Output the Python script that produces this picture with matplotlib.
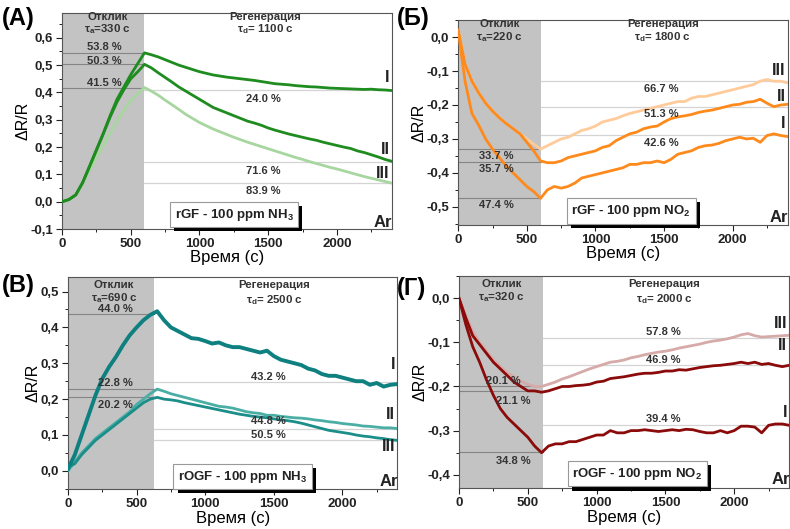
import matplotlib
matplotlib.use('Agg')
import matplotlib.pyplot as plt
import matplotlib.patheffects as pe
from matplotlib.ticker import MultipleLocator, FuncFormatter

plt.rcParams['font.family'] = ['Liberation Sans', 'DejaVu Sans']
plt.rcParams['font.weight'] = 'bold'
plt.rcParams['axes.unicode_minus'] = False
plt.rcParams['mathtext.default'] = 'regular'

# время, с
t = list(range(0, 2401, 50))

# (А) rGF - NH3
a_I = [0.0, 0.008, 0.025, 0.07, 0.13, 0.19, 0.25, 0.315, 0.375, 0.42, 0.465, 0.505, 0.545,
       0.538, 0.53, 0.52, 0.51, 0.5, 0.492, 0.484, 0.476, 0.47, 0.464, 0.46, 0.456, 0.453,
       0.45, 0.447, 0.444, 0.44, 0.436, 0.432, 0.43, 0.428, 0.425, 0.423, 0.421, 0.42,
       0.418, 0.416, 0.415, 0.414, 0.413, 0.412, 0.411, 0.412, 0.41, 0.409, 0.407]
a_II = [0.0, 0.008, 0.025, 0.07, 0.128, 0.188, 0.248, 0.31, 0.365, 0.41, 0.45, 0.475, 0.503,
        0.49, 0.472, 0.455, 0.438, 0.42, 0.405, 0.39, 0.375, 0.36, 0.345, 0.335, 0.325, 0.315,
        0.305, 0.295, 0.288, 0.28, 0.27, 0.262, 0.255, 0.248, 0.242, 0.236, 0.23, 0.225,
        0.218, 0.212, 0.206, 0.2, 0.195, 0.186, 0.18, 0.172, 0.164, 0.155, 0.148]
a_III = [0.0, 0.008, 0.025, 0.065, 0.115, 0.16, 0.205, 0.25, 0.295, 0.335, 0.37, 0.395, 0.418,
         0.405, 0.39, 0.372, 0.355, 0.338, 0.32, 0.305, 0.29, 0.278, 0.266, 0.256, 0.246, 0.236,
         0.227, 0.218, 0.21, 0.202, 0.194, 0.186, 0.178, 0.17, 0.162, 0.155, 0.147, 0.14,
         0.133, 0.126, 0.12, 0.113, 0.106, 0.099, 0.092, 0.086, 0.08, 0.074, 0.068]

# (Б) rGF - NO2
b_I = [0.02, -0.13, -0.225, -0.26, -0.3, -0.33, -0.355, -0.38, -0.4, -0.42, -0.44, -0.455, -0.475,
       -0.45, -0.44, -0.445, -0.44, -0.43, -0.415, -0.41, -0.405, -0.4, -0.395, -0.39, -0.385,
       -0.375, -0.375, -0.37, -0.37, -0.365, -0.37, -0.36, -0.345, -0.34, -0.335, -0.325, -0.32,
       -0.318, -0.313, -0.305, -0.3, -0.295, -0.3, -0.298, -0.31, -0.29, -0.285, -0.29, -0.293]
b_II = [0.02, -0.08, -0.13, -0.165, -0.195, -0.218, -0.238, -0.255, -0.27, -0.285, -0.31, -0.335, -0.365,
        -0.37, -0.37, -0.365, -0.355, -0.35, -0.345, -0.34, -0.335, -0.325, -0.32, -0.305, -0.295,
        -0.285, -0.28, -0.27, -0.265, -0.262, -0.25, -0.24, -0.235, -0.232, -0.228, -0.222, -0.218,
        -0.215, -0.21, -0.205, -0.2, -0.198, -0.192, -0.19, -0.183, -0.195, -0.205, -0.2, -0.198]
b_III = [0.02, -0.08, -0.13, -0.165, -0.195, -0.218, -0.238, -0.255, -0.27, -0.285, -0.3, -0.315, -0.33,
         -0.32, -0.31, -0.3, -0.295, -0.285, -0.275, -0.27, -0.262, -0.25, -0.245, -0.24, -0.232,
         -0.225, -0.22, -0.215, -0.21, -0.205, -0.2, -0.195, -0.19, -0.19, -0.18, -0.175, -0.175,
         -0.17, -0.165, -0.16, -0.155, -0.15, -0.145, -0.14, -0.13, -0.125, -0.13, -0.13, -0.135]

# (В) rOGF - NH3
c_I = [0.005, 0.045, 0.1, 0.155, 0.21, 0.257, 0.29, 0.318, 0.35, 0.378, 0.4, 0.42, 0.435,
       0.445, 0.42, 0.4, 0.39, 0.38, 0.37, 0.368, 0.362, 0.355, 0.358, 0.35, 0.345, 0.345,
       0.34, 0.335, 0.33, 0.335, 0.32, 0.31, 0.305, 0.3, 0.295, 0.285, 0.28, 0.27, 0.265,
       0.265, 0.26, 0.255, 0.25, 0.25, 0.24, 0.245, 0.235, 0.24, 0.242]
c_II = [0.0, 0.025, 0.05, 0.07, 0.09, 0.105, 0.12, 0.135, 0.15, 0.165, 0.185, 0.2, 0.215,
        0.228, 0.222, 0.215, 0.21, 0.205, 0.2, 0.195, 0.19, 0.185, 0.18, 0.178, 0.175, 0.17,
        0.165, 0.162, 0.16, 0.155, 0.155, 0.152, 0.15, 0.148, 0.147, 0.145, 0.142, 0.14,
        0.137, 0.135, 0.132, 0.13, 0.128, 0.125, 0.124, 0.122, 0.12, 0.12, 0.118]
c_III = [0.01, 0.02, 0.045, 0.065, 0.085, 0.1, 0.115, 0.13, 0.145, 0.16, 0.175, 0.19, 0.2,
         0.205, 0.2, 0.198, 0.195, 0.19, 0.186, 0.182, 0.178, 0.174, 0.17, 0.166, 0.162, 0.158,
         0.155, 0.152, 0.15, 0.148, 0.145, 0.142, 0.14, 0.137, 0.133, 0.128, 0.123, 0.118,
         0.113, 0.11, 0.107, 0.104, 0.1, 0.097, 0.095, 0.092, 0.09, 0.087, 0.085]

# (Г) rOGF - NO2
d_I = [0.0, -0.06, -0.11, -0.145, -0.185, -0.22, -0.25, -0.27, -0.285, -0.3, -0.315, -0.335, -0.35,
       -0.335, -0.33, -0.33, -0.325, -0.325, -0.32, -0.315, -0.31, -0.31, -0.3, -0.305, -0.305,
       -0.3, -0.3, -0.298, -0.3, -0.302, -0.3, -0.298, -0.3, -0.297, -0.298, -0.302, -0.305,
       -0.305, -0.3, -0.305, -0.3, -0.29, -0.29, -0.292, -0.305, -0.288, -0.285, -0.285, -0.288]
d_II = [0.0, -0.045, -0.085, -0.105, -0.125, -0.145, -0.16, -0.175, -0.19, -0.2, -0.21, -0.21, -0.213,
        -0.21, -0.205, -0.2, -0.2, -0.198, -0.197, -0.195, -0.19, -0.188, -0.182, -0.18, -0.178,
        -0.175, -0.172, -0.17, -0.17, -0.168, -0.165, -0.165, -0.162, -0.163, -0.16, -0.157, -0.155,
        -0.153, -0.152, -0.15, -0.148, -0.145, -0.148, -0.145, -0.15, -0.148, -0.152, -0.155, -0.152]
d_III = [0.0, -0.04, -0.075, -0.1, -0.12, -0.14, -0.155, -0.168, -0.178, -0.188, -0.195, -0.2, -0.2,
         -0.195, -0.19, -0.183, -0.178, -0.172, -0.166, -0.16, -0.155, -0.15, -0.145, -0.143, -0.14,
         -0.135, -0.132, -0.128, -0.125, -0.122, -0.12, -0.117, -0.113, -0.11, -0.107, -0.104, -0.1,
         -0.097, -0.095, -0.092, -0.088, -0.083, -0.08, -0.085, -0.088, -0.087, -0.086, -0.085, -0.084]

# уровни (пик / конец) и подписи процентов
a_peak = [0.545, 0.503, 0.415]
a_peak_txt = ['53.8 %', '50.3 %', '41.5 %']
a_end = [0.41, 0.145, 0.07]
a_end_txt = ['24.0 %', '71.6 %', '83.9 %']

b_peak = [-0.33, -0.367, -0.473]
b_peak_txt = ['33.7 %', '35.7 %', '47.4 %']
b_end = [-0.128, -0.205, -0.287]
b_end_txt = ['66.7 %', '51.3 %', '42.6 %']

c_peak = [0.438, 0.228, 0.206]
c_peak_txt = ['44.0 %', '22.8 %', '20.2 %']
c_end = [0.248, 0.118, 0.087]
c_end_txt = ['43.2 %', '44.8 %', '50.5 %']

d_peak = [-0.198, -0.21, -0.348]
d_peak_txt = ['20.1 %', '21.1 %', '34.8 %']
d_end = [-0.09, -0.152, -0.287]
d_end_txt = ['57.8 %', '46.9 %', '39.4 %']

LW = 2.0


def comma(v, pos):
    return f'{v:.1f}'.replace('.', ',')


def setup_axes(ax, ylim, ystep, gray_end, xpad):
    ax.set_xlim(0, 2400)
    ax.set_ylim(*ylim)
    ax.axvspan(0, gray_end, color='#c3c3c3', lw=0, zorder=0)
    ax.xaxis.set_major_locator(MultipleLocator(500))
    ax.xaxis.set_minor_locator(MultipleLocator(250))
    ax.yaxis.set_major_locator(MultipleLocator(ystep))
    ax.yaxis.set_minor_locator(MultipleLocator(ystep / 2))
    ax.yaxis.set_major_formatter(FuncFormatter(comma))
    ax.tick_params(which='major', length=4, width=0.8, pad=2.5, labelsize=9.5, colors='#222')
    ax.tick_params(which='minor', length=2, width=0.6)
    for s in ax.spines.values():
        s.set_color('#555')
        s.set_linewidth(0.8)
    ax.set_xlabel('Время (с)', fontsize=12, labelpad=xpad)
    ax.set_ylabel('ΔR/R', fontsize=11.5, labelpad=0)


def levels(ax, gray_end, peak, peak_txt, peak_pos, end, end_txt, end_pos):
    for y in peak:
        ax.plot([0, gray_end], [y, y], color='#858585', lw=0.8, zorder=1)
    for y in end:
        ax.plot([gray_end, 2400], [y, y], color='#d4d4d4', lw=0.9, zorder=1)
    for s, (x, y) in zip(peak_txt, peak_pos):
        ax.text(x, y, s, ha='center', va='center', fontsize=8, color='#333', zorder=5)
    for s, (x, y) in zip(end_txt, end_pos):
        ax.text(x, y, s, ha='center', va='center', fontsize=8, color='#333', zorder=5)


def headers(ax, xa, xb, ya, yb, yd, tau_a, tau_d):
    kw = dict(ha='center', va='baseline', fontsize=8.2, color='#333')
    ax.text(xa, ya, 'Отклик', **kw)
    ax.text(xa, yb, 'τ$_\\mathregular{a}$=' + tau_a, **kw)
    ax.text(xb, ya, 'Регенерация', **kw)
    ax.text(xb, yd, 'τ$_\\mathregular{d}$= ' + tau_d, **kw)


def box(ax, x, y, s):
    txt = ax.text(x, y, s, ha='center', va='center', fontsize=9.5, color='#222', zorder=6,
                  bbox=dict(boxstyle='square,pad=0.35', fc='white', ec='#999', lw=0.8))
    txt.get_bbox_patch().set_path_effects([
        pe.SimplePatchShadow(offset=(3, -3), shadow_rgbFace='black', alpha=1), pe.Normal()])


def romans(ax, pos, ar_y):
    for s, y in zip(['I', 'II', 'III'], pos):
        ax.text(2385, y, s, ha='right', va='center', fontsize=11.5, color='#222', zorder=6)
    ax.text(2405, ar_y, 'Ar', ha='right', va='center', fontsize=12, color='#222', zorder=6)


fig = plt.figure(figsize=(7.9, 5.29), dpi=100)

# ---- (А)
ax = fig.add_axes([0.0785, 0.567, 0.4175, 0.408])
setup_axes(ax, (-0.1, 0.69), 0.1, 600, 0)
levels(ax, 600, a_peak, a_peak_txt, [(305, 0.566), (305, 0.515), (305, 0.434)],
       a_end, a_end_txt, [(1465, 0.375), (1465, 0.114), (1465, 0.04)])
ax.plot(t, a_III, color='#a8d6a0', lw=LW, zorder=3)
ax.plot(t, a_II, color='#1e8c1e', lw=LW, zorder=4)
ax.plot(t, a_I, color='#1e8c1e', lw=LW, zorder=4)
headers(ax, 330, 1480, 0.666, 0.621, 0.621, '330 c', '1100 c')
box(ax, 1252, -0.047, 'rGF - 100 ppm NH$_\\mathregular{3}$')
romans(ax, [0.455, 0.19, 0.105], -0.075)
fig.text(0.003, 0.965, '(А)', fontsize=17, ha='left', va='center')

# ---- (Б)
ax = fig.add_axes([0.580, 0.575, 0.417, 0.387])
setup_axes(ax, (-0.553, 0.05), 0.1, 600, 0)
levels(ax, 600, b_peak, b_peak_txt, [(280, -0.351), (280, -0.39), (280, -0.496)],
       b_end, b_end_txt, [(1480, -0.153), (1480, -0.228), (1480, -0.312)])
ax.plot(t, b_III, color='#ffcb9a', lw=LW, zorder=3)
ax.plot(t, b_II, color='#ff8a1c', lw=LW, zorder=4)
ax.plot(t, b_I, color='#ff8a1c', lw=LW, zorder=4)
headers(ax, 303, 1490, 0.029, -0.008, -0.008, '220 c', '1800 c')
box(ax, 1260, -0.512, 'rGF - 100 ppm NO$_\\mathregular{2}$')
romans(ax, [-0.255, -0.175, -0.098], -0.532)
fig.text(0.503, 0.965, '(Б)', fontsize=17, ha='left', va='center')

# ---- (В)
ax = fig.add_axes([0.086, 0.076, 0.417, 0.4])
setup_axes(ax, (-0.05, 0.54), 0.1, 630, 1)
levels(ax, 630, c_peak, c_peak_txt, [(348, 0.45), (348, 0.246), (348, 0.185)],
       c_end, c_end_txt, [(1463, 0.262), (1463, 0.139), (1463, 0.101)])
ax.plot(t, c_II, color='#4aaea5', lw=LW, zorder=3)
ax.plot(t, c_III, color='#1c8e89', lw=LW, zorder=4)
ax.plot(t, c_I, color='#0f8080', lw=2.8, zorder=4)
headers(ax, 336, 1500, 0.51, 0.474, 0.467, '690 c', '2500 c')
box(ax, 1273, -0.016, 'rOGF - 100 ppm NH$_\\mathregular{3}$')
romans(ax, [0.297, 0.158, 0.067], -0.03)
fig.text(0.003, 0.46, '(В)', fontsize=17, ha='left', va='center')

# ---- (Г)
ax = fig.add_axes([0.581, 0.0775, 0.418, 0.4005])
setup_axes(ax, (-0.43, 0.05), 0.1, 610, 1)
levels(ax, 610, d_peak, d_peak_txt, [(320, -0.188), (393, -0.234), (393, -0.368)],
       d_end, d_end_txt, [(1484, -0.077), (1484, -0.139), (1484, -0.273)])
ax.plot(t, d_III, color='#d6aaa8', lw=LW, zorder=3)
ax.plot(t, d_II, color='#8b0a0a', lw=LW, zorder=4)
ax.plot(t, d_I, color='#8b0a0a', lw=LW, zorder=4)
headers(ax, 308, 1490, 0.025, -0.004, -0.01, '320 c', '2000 c')
box(ax, 1295, -0.398, 'rOGF - 100 ppm NO$_\\mathregular{2}$')
romans(ax, [-0.26, -0.107, -0.058], -0.41)
fig.text(0.503, 0.455, '(Г)', fontsize=17, ha='left', va='center')

fig.savefig('out.png', dpi=100)
